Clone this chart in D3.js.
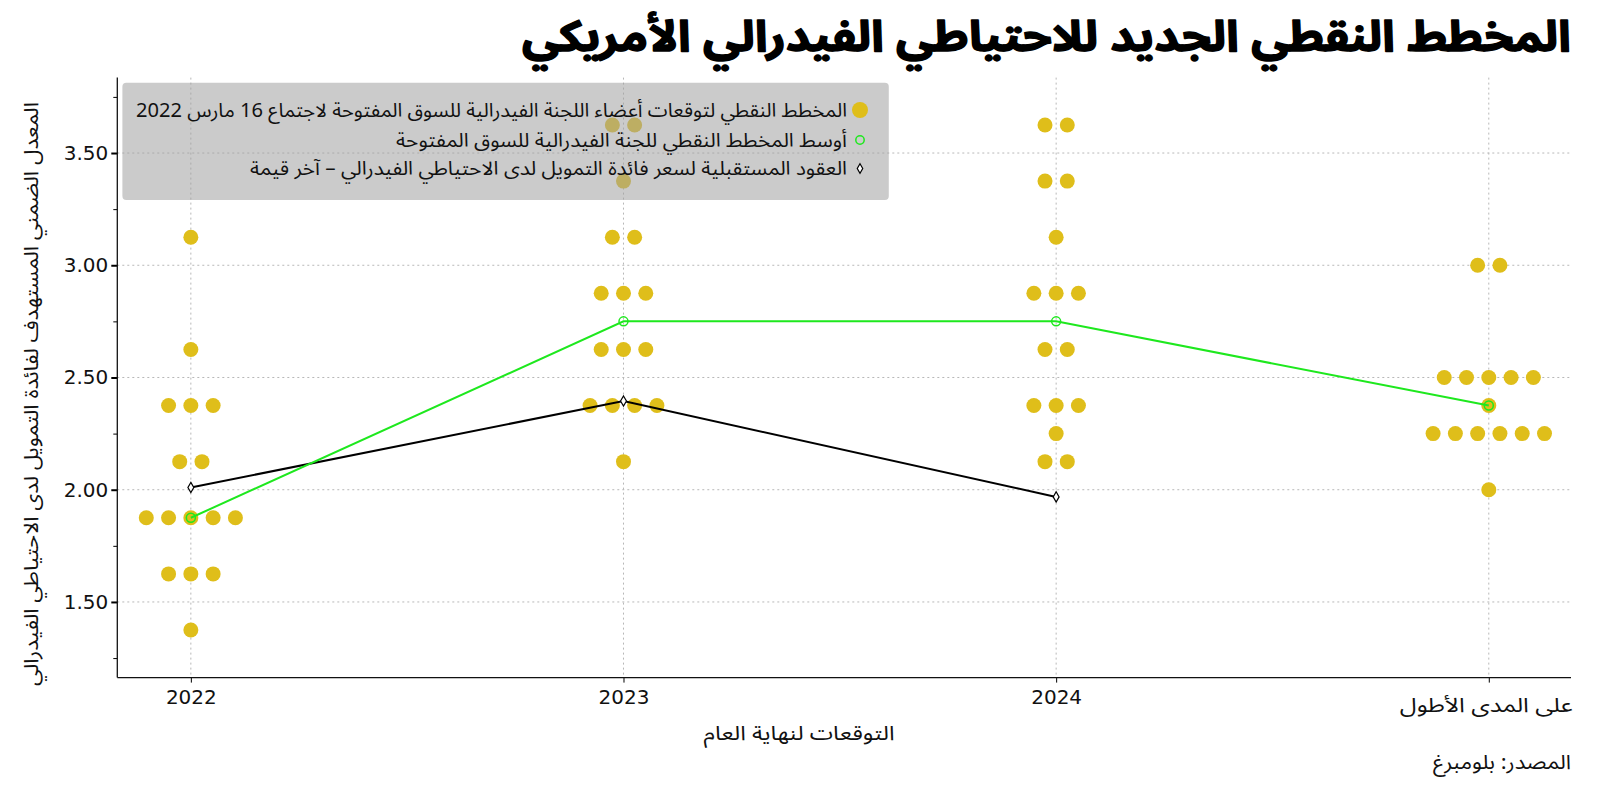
<!DOCTYPE html>
<html>
<head>
<meta charset="utf-8">
<script src="https://cdn.jsdelivr.net/npm/d3@7"></script>
<style>
  html, body { margin: 0; padding: 0; background: #fff; }
  svg { display: block; }
  text { font-family: "Noto Sans Arabic", "DejaVu Sans", sans-serif; }
</style>
</head>
<body>
<svg id="chart" width="1600" height="787"></svg>
<script>
// ---------- DATA ----------
const categories = ["2022", "2023", "2024", "على المدى الأطول"];
// dot plot rows: [rate, number of participants]
const dots2022 = [[3.125, 1], [2.625, 1], [2.375, 3], [2.125, 2], [1.875, 5], [1.625, 3], [1.375, 1]];
const dots2023 = [[3.625, 2], [3.375, 1], [3.125, 2], [2.875, 3], [2.625, 3], [2.375, 4], [2.125, 1]];
const dots2024 = [[3.625, 2], [3.375, 2], [3.125, 1], [2.875, 3], [2.625, 2], [2.375, 3], [2.25, 1], [2.125, 2]];
const dotsLonger = [[3.0, 2], [2.5, 5], [2.375, 1], [2.25, 6], [2.0, 1]];
const medianValues = [1.875, 2.75, 2.75, 2.375];
const futuresValues = [2.01, 2.395, 1.968];
const yTicks = [1.5, 2.0, 2.5, 3.0, 3.5];
const yMinorTicks = [1.25, 1.75, 2.25, 2.75, 3.25, 3.75];

const titleText = "المخطط النقطي الجديد للاحتياطي الفيدرالي الأمريكي";
const legendLabels = [
  "المخطط النقطي لتوقعات أعضاء اللجنة الفيدرالية للسوق المفتوحة لاجتماع 16 مارس 2022",
  "أوسط المخطط النقطي للجنة الفيدرالية للسوق المفتوحة",
  "العقود المستقبلية لسعر فائدة التمويل لدى الاحتياطي الفيدرالي – آخر قيمة"
];
const yLabel = "المعدل الضمني المستهدف لفائدة التمويل لدى الاحتياطي الفيدرالي";
const xLabel = "التوقعات لنهاية العام";
const sourceText = "المصدر: بلومبرغ";

// ---------- LAYOUT ----------
const svg = d3.select("#chart");
const pLeft = 117.3, pRight = 1571, pTop = 77.6, pBottom = 677.6;
const x = d3.scaleLinear().domain([-0.17, 3.19]).range([pLeft, pRight]);
const y = d3.scaleLinear().domain([1.163, 3.836]).range([pBottom, pTop]);
const dotStep = 0.0515; // horizontal spacing of dots, in category units
const gold = "#dfbe1a", green = "#1ee81e";

// grid
const grid = svg.append("g");
grid.selectAll("line.h").data(yTicks).join("line").attr("class", "h")
  .attr("x1", pLeft).attr("x2", pRight)
  .attr("y1", d => y(d)).attr("y2", d => y(d))
  .attr("stroke", "#b8b8b8").attr("stroke-width", 1).attr("stroke-dasharray", "2,3");
grid.selectAll("line.v").data(categories).join("line").attr("class", "v")
  .attr("x1", (d, i) => x(i)).attr("x2", (d, i) => x(i))
  .attr("y1", pTop).attr("y2", pBottom)
  .attr("stroke", "#b8b8b8").attr("stroke-width", 1).attr("stroke-dasharray", "2,3");

// dots
const allDots = [];
[dots2022, dots2023, dots2024, dotsLonger].forEach((arr, ci) => {
  arr.forEach(([v, n]) => {
    for (let k = 0; k < n; k++) {
      allDots.push({ xv: ci + (k - (n - 1) / 2) * dotStep, v });
    }
  });
});
svg.append("g").selectAll("circle").data(allDots).join("circle")
  .attr("cx", d => x(d.xv)).attr("cy", d => y(d.v)).attr("r", 7.5)
  .attr("fill", gold);

// futures line
const fut = futuresValues.map((v, i) => [i, v]);
svg.append("path").datum(fut)
  .attr("d", d3.line().x(d => x(d[0])).y(d => y(d[1])))
  .attr("fill", "none").attr("stroke", "#000").attr("stroke-width", 2);
svg.append("g").selectAll("path").data(fut).join("path")
  .attr("d", d3.symbol().type(d3.symbolDiamond).size(30))
  .attr("transform", d => `translate(${x(d[0])},${y(d[1])})`)
  .attr("fill", "#fff").attr("stroke", "#000").attr("stroke-width", 1.2);

// median line
const med = medianValues.map((v, i) => [i, v]);
svg.append("path").datum(med)
  .attr("d", d3.line().x(d => x(d[0])).y(d => y(d[1])))
  .attr("fill", "none").attr("stroke", green).attr("stroke-width", 2);
svg.append("g").selectAll("circle").data(med).join("circle")
  .attr("cx", d => x(d[0])).attr("cy", d => y(d[1])).attr("r", 4.5)
  .attr("fill", "none").attr("stroke", green).attr("stroke-width", 1.5);

// axes
const yAxis = svg.append("g").attr("transform", `translate(${pLeft},0)`)
  .call(d3.axisLeft(y).tickValues(yTicks).tickFormat(d3.format(".2f")).tickSizeOuter(0).tickSize(6));
yAxis.select(".domain").remove();
yAxis.selectAll(".tick line").attr("stroke-width", 2);
yAxis.selectAll(".tick text").attr("font-size", 20).attr("fill", "#111").attr("x", -9)
  .style("font-family", "'DejaVu Sans', sans-serif");
svg.append("g").attr("transform", `translate(${pLeft},0)`)
  .call(d3.axisLeft(y).tickValues(yMinorTicks).tickFormat("").tickSize(4).tickSizeOuter(0))
  .select(".domain").remove();
svg.append("line").attr("x1", pLeft).attr("x2", pLeft).attr("y1", pTop).attr("y2", pBottom)
  .attr("stroke", "#111").attr("stroke-width", 1.3);

const xAxis = svg.append("g").attr("transform", `translate(0,${pBottom})`)
  .call(d3.axisBottom(x).tickValues([0, 1, 2, 3]).tickFormat(i => categories[i]).tickSize(5).tickSizeOuter(0));
xAxis.select(".domain").remove();
xAxis.selectAll(".tick text").attr("font-size", 20).attr("fill", "#111").attr("dy", "0.9em")
  .style("font-family", "'DejaVu Sans', sans-serif");
xAxis.selectAll(".tick").filter(i => i === 3).select("text")
  .attr("font-size", 20).attr("dy", "1.3em").attr("x", -3)
  .attr("textLength", 173).attr("lengthAdjust", "spacingAndGlyphs")
  .style("font-family", "'Noto Sans Arabic','DejaVu Sans',sans-serif");
svg.append("line").attr("x1", pLeft).attr("x2", pRight).attr("y1", pBottom).attr("y2", pBottom)
  .attr("stroke", "#111").attr("stroke-width", 1.3);

// legend
const lg = svg.append("g");
lg.append("rect").attr("x", 122.4).attr("y", 82.7).attr("width", 766.4).attr("height", 117.3)
  .attr("rx", 4).attr("fill", "#a0a0a0").attr("fill-opacity", 0.55);
const rowY = [110, 140, 168.5];
const legendLens = [711, 451, 597];
lg.append("circle").attr("cx", 860).attr("cy", rowY[0]).attr("r", 8).attr("fill", gold);
lg.append("circle").attr("cx", 860).attr("cy", rowY[1]).attr("r", 4.2)
  .attr("fill", "none").attr("stroke", green).attr("stroke-width", 1.5);
lg.append("path").attr("d", d3.symbol().type(d3.symbolDiamond).size(26))
  .attr("transform", `translate(860,${rowY[2]})`)
  .attr("fill", "#fff").attr("stroke", "#000").attr("stroke-width", 1.2);
lg.selectAll("text").data(legendLabels).join("text")
  .attr("x", 847).attr("y", (d, i) => rowY[i]).attr("dy", "0.35em")
  .attr("text-anchor", "end").attr("font-size", 19).attr("fill", "#111")
  .attr("textLength", (d, i) => legendLens[i]).attr("lengthAdjust", "spacingAndGlyphs")
  .text(d => d);

// title
svg.append("text").attr("x", 1571).attr("y", 51).attr("text-anchor", "end")
  .attr("font-size", 43).attr("font-weight", "bold").attr("fill", "#000")
  .attr("stroke", "#000").attr("stroke-width", 1.4).attr("stroke-linejoin", "round")
  .attr("textLength", 1049).attr("lengthAdjust", "spacingAndGlyphs")
  .text(titleText);

// y label
svg.append("text").attr("transform", "translate(31,394) rotate(-90)")
  .attr("text-anchor", "middle").attr("dy", "0.35em")
  .attr("font-size", 20).attr("fill", "#111")
  .attr("textLength", 584).attr("lengthAdjust", "spacingAndGlyphs")
  .text(yLabel);

// x label
svg.append("text").attr("x", 799).attr("y", 733).attr("dy", "0.35em")
  .attr("text-anchor", "middle").attr("font-size", 20).attr("fill", "#111")
  .attr("textLength", 191).attr("lengthAdjust", "spacingAndGlyphs")
  .text(xLabel);

// source
svg.append("text").attr("x", 1571).attr("y", 762).attr("dy", "0.35em")
  .attr("text-anchor", "end").attr("font-size", 20).attr("fill", "#111")
  .attr("textLength", 138).attr("lengthAdjust", "spacingAndGlyphs")
  .text(sourceText);
</script>
</body>
</html>
